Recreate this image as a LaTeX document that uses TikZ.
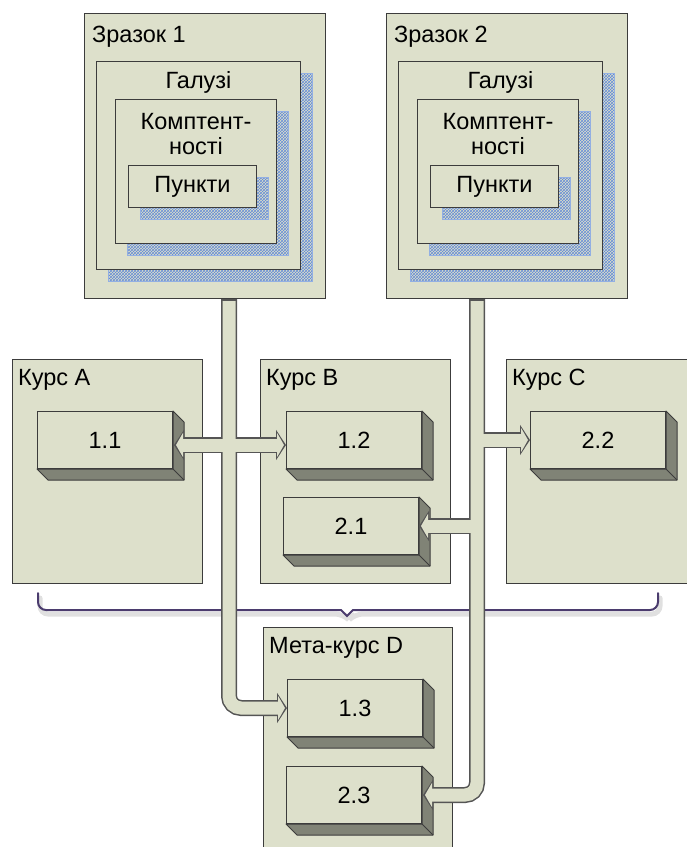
\documentclass[tikz,border=0pt]{standalone}
\usepackage{fontspec}
\setmainfont{Liberation Sans}
\usetikzlibrary{arrows.meta,positioning,calc,shadows,patterns}
\definecolor{panelfill}{RGB}{221,224,203}
\definecolor{edgegray}{RGB}{60,60,60}
\definecolor{sidegray}{RGB}{128,131,118}
\definecolor{pipeline}{RGB}{85,85,85}
\definecolor{hatchblue}{RGB}{100,140,215}
\definecolor{bracepurple}{RGB}{75,60,110}

\begin{document}
\begin{tikzpicture}[x=1pt, y=-1pt, font=\fontsize{23.5}{25}\selectfont,
    panel/.style={draw=edgegray, line width=1pt, fill=panelfill, anchor=north west, inner sep=0pt},
    layer/.style={panel, general shadow={shadow xshift=12pt, shadow yshift=-12pt,
        draw=hatchblue!70, preaction={fill=white}, pattern=crosshatch, pattern color=hatchblue}},
    block/.style={draw=edgegray, line width=1pt, fill=panelfill, anchor=north west,
        minimum width=135pt, minimum height=57pt, inner sep=0pt},
    side/.style={draw=edgegray, line width=1pt, fill=sidegray, line join=round},
    title/.style={anchor=base west, inner sep=0pt},
    pipeedge/.style={line width=16pt, draw=pipeline, >={Triangle[length=10pt,width=30pt]}},
    pipecore/.style={line width=13pt, draw=panelfill, >={Triangle[length=7pt,width=24pt]},
        shorten >=2pt, shorten <=2pt}]
  \useasboundingbox (0,0) rectangle (687,847);
  \clip (0,0) rectangle (687,847);

  % samples with nested layers
  \node[panel, minimum width=241pt, minimum height=285pt] (s1) at (84,13) {};
  \node[layer, minimum width=204pt, minimum height=208pt] (s1g) at (96,61) {};
  \node[layer, minimum width=161pt, minimum height=144pt] (s1k) at (115,99) {};
  \node[layer, minimum width=128pt, minimum height=42pt] (s1p) at (128,165) {};
  \node[panel, minimum width=241pt, minimum height=285pt] (s2) at (386,13) {};
  \node[layer, minimum width=204pt, minimum height=208pt] (s2g) at (398,61) {};
  \node[layer, minimum width=161pt, minimum height=144pt] (s2k) at (417,99) {};
  \node[layer, minimum width=128pt, minimum height=42pt] (s2p) at (430,165) {};

  \foreach \s/\n in {s1/1, s2/2} {
    \node[title] at ($(\s.north west)+(8,29)$) {Зразок \n};
    \node[anchor=base, inner sep=0pt] at ($(\s g.north)+(0,27)$) {Галузі};
    \node[anchor=north, inner sep=0pt, align=center] at ($(\s k.north)+(0,14)$) {Комптент-\\ності};
    \node[inner sep=0pt] at (\s p) {Пункти};
  }

  % courses
  \node[panel, minimum width=190pt, minimum height=224pt] (ka) at (12,359) {};
  \node[panel, minimum width=190pt, minimum height=224pt] (kb) at (260,359) {};
  \node[panel, minimum width=200pt, minimum height=224pt] (kc) at (506,359) {};
  \node[panel, minimum width=189pt, minimum height=240pt] (kd) at (263,627) {};
  \node[title] at ($(ka.north west)+(6,26)$) {Курс A};
  \node[title] at ($(kb.north west)+(6,26)$) {Курс B};
  \node[title] at ($(kc.north west)+(6,26)$) {Курс C};
  \node[title] at ($(kd.north west)+(6,26)$) {Мета-курс D};

  % items
  \node[block] (b11) at (37,411) {1.1};
  \node[block] (b12) at (286,411) {1.2};
  \node[block] (b21) at (283,497) {2.1};
  \node[block] (b22) at (530,411) {2.2};
  \node[block] (b13) at (287,679) {1.3};
  \node[block] (b23) at (286,766) {2.3};
  \foreach \b in {b11,b12,b21,b22,b13,b23} {
    \draw[side] (\b.north east) -- ++(11,11) -- ($(\b.south east)+(11,11)$)
      -- ($(\b.south west)+(11,11)$) -- (\b.south west) -- (\b.south east) -- cycle;
    \draw[side] (\b.south east) -- ++(11,11);
  }

  % brace under the three courses
  \draw[black!12, line width=5pt, line cap=round] (40,598) [rounded corners=8pt] -- (40,614)
    -- (343,614) -- (349,620) -- (355,614) -- (660,614) -- (660,598);
  \draw[bracepurple, line width=2pt, line cap=round] (38,593) [rounded corners=8pt] -- (38,610)
    [sharp corners] -- (341,610) -- (347,616) -- (353,610) [rounded corners=8pt] -- (658,610) -- (658,593);

  % pipes
  \coordinate (p1) at ($(s1.south west)+(145,0)$);
  \coordinate (p2) at ($(s2.south west)+(91,0)$);
  \foreach \layer in {pipeedge, pipecore} {
    \draw[\layer, ->, rounded corners=12pt] (p1) |- (b13.west);
    \draw[\layer, <->] ($(b11.east)+(1,5)$) -- ($(b12.west)+(0,5)$);
    \draw[\layer, ->, rounded corners=12pt] (p2) |- ($(b23.east)+(1,0)$);
    \draw[\layer, ->] (p2 |- b22.west) -- (b22.west);
    \draw[\layer, ->] (p2 |- b21.east) -- (b21.east);
  }
\end{tikzpicture}
\end{document}
